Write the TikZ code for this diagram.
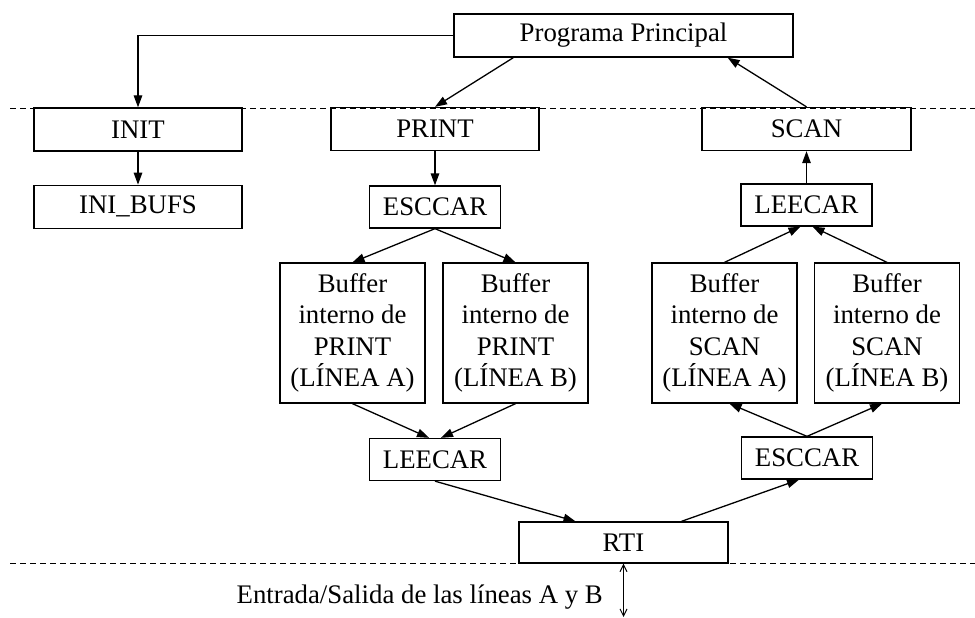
\documentclass[tikz,border=0pt]{standalone}
\usepackage{fontspec}
\setmainfont{Liberation Serif}
\usetikzlibrary{arrows.meta,positioning}
\tikzset{box/.style={draw,line width=1.3pt,inner sep=0pt,minimum height=43pt,
  font=\fontsize{26.8}{31.5}\selectfont,align=center},
  wide/.style={box,minimum width=208pt},
  small/.style={box,minimum width=131pt,minimum height=42pt},
  buf/.style={box,minimum width=145pt,minimum height=140pt},
  arrow/.style={-{Triangle[length=12pt,width=8.5pt]},line width=1.3pt},
  level/.style={dash pattern=on 6pt off 4pt,line width=1pt},
  io/.style={{Straight Barb[length=7pt,width=7pt]}-{Straight Barb[length=7pt,width=7pt]},line width=1pt}}

\begin{document}
\begin{tikzpicture}[x=1pt,y=-1pt]
\useasboundingbox (0,0) rectangle (975,618);
% levels
\coordinate (upL) at (10,108);
\coordinate (upR) at (975,108);
\coordinate (lowL) at (10,563);
\coordinate (lowR) at (975,563);
\draw[level] (upL) -- (upR);
\draw[level] (lowL) -- (lowR);
% boxes
\node[box,minimum width=339pt] (prog) at (623.5,35.5) {Programa Principal};
\node[wide] (init) at (138,129.5) {INIT};
\node[wide,below=33pt of init] (inibufs) {INI\_BUFS};
\node[wide] (print) at (435,129) {PRINT};
\node[wide,minimum width=209pt] (scan) at (806.5,129) {SCAN};
\node[small] (escL) at (435,207) {ESCCAR};
\node[small] (leeR) at (806.5,205) {LEECAR};
\node[buf] (bufPA) at (352.5,333) {Buffer\\interno de\\PRINT\\(LÍNEA A)};
\node[buf] (bufPB) at (515.5,333) {Buffer\\interno de\\PRINT\\(LÍNEA B)};
\node[buf] (bufSA) at (724.5,333) {Buffer\\interno de\\SCAN\\(LÍNEA A)};
\node[buf] (bufSB) at (887,333) {Buffer\\interno de\\SCAN\\(LÍNEA B)};
\node[small] (leeL) at (435,459.5) {LEECAR};
\node[small] (escR) at (807,458) {ESCCAR};
\node[wide,minimum width=209pt,minimum height=41pt] (rti) at (623.5,542.5) {RTI};
\coordinate (iopin) at (623.5,617);
\node[anchor=base east,font=\fontsize{26.8}{31.5}\selectfont,inner sep=0pt] (iolabel)
  at (603,603) {Entrada/Salida de las líneas A y B};
% connectors
\draw[arrow] (prog.west) -| (init.north);
\draw[arrow] (init) -- (inibufs);
\draw[arrow] ([xshift=60pt]prog.south west) -- (print.north);
\draw[arrow] (print) -- (escL);
\draw[arrow] (escL.south) -- (bufPA.north);
\draw[arrow] (escL.south) -- (bufPB.north);
\draw[arrow] (bufPA.south) -- ([xshift=-6pt]leeL.north);
\draw[arrow] (bufPB.south) -- ([xshift=6pt]leeL.north);
\draw[arrow] (leeL.south) -- ([xshift=-48pt]rti.north);
\draw[arrow] ([xshift=58pt]rti.north) -- ([xshift=-8pt]escR.south);
\draw[arrow] (escR.north) -- ([xshift=5pt]bufSA.south);
\draw[arrow] (escR.north) -- ([xshift=-5pt]bufSB.south);
\draw[arrow] (bufSA.north) -- ([xshift=-6pt]leeR.south);
\draw[arrow] (bufSB.north) -- ([xshift=6pt]leeR.south);
\draw[arrow] (leeR) -- (scan);
\draw[arrow] (scan.north) -- ([xshift=-66pt]prog.south east);
\draw[io] (rti.south) -- (iopin);
\end{tikzpicture}
\end{document}
